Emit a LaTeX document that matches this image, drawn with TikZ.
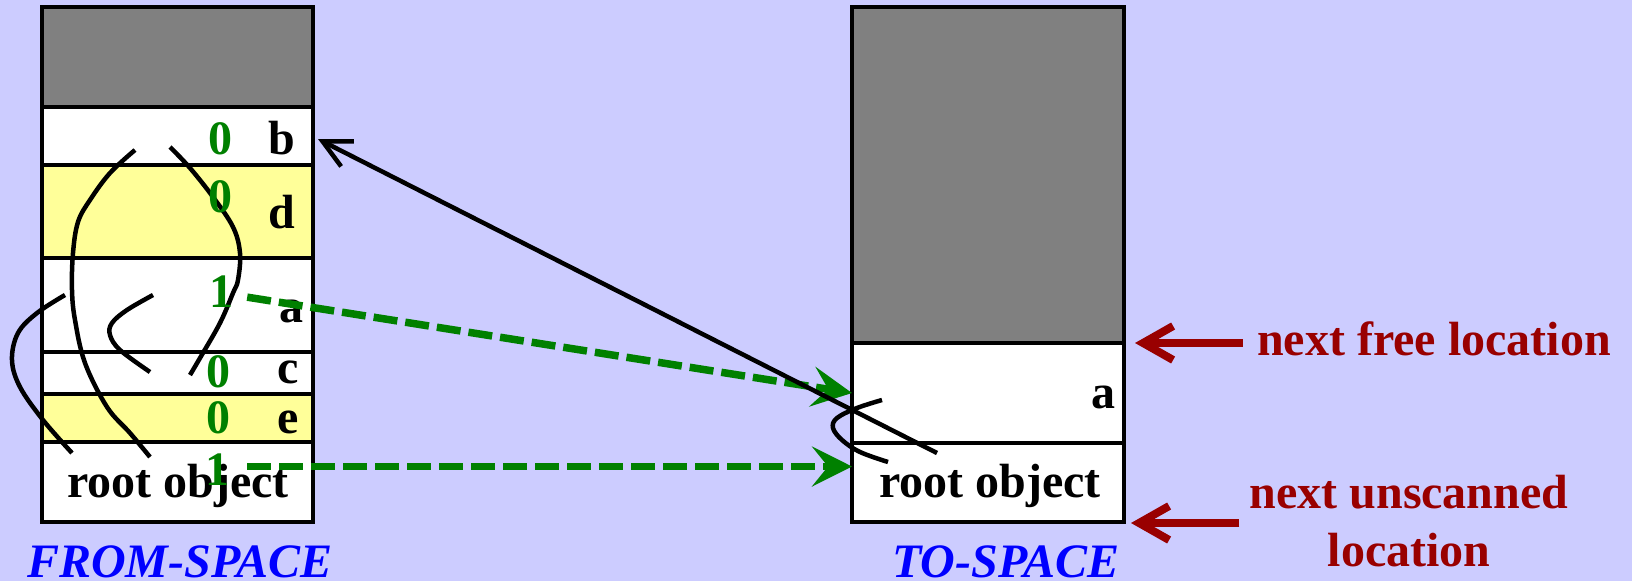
\documentclass[tikz,border=0pt]{standalone}
\usepackage{fontspec}
\setmainfont{Liberation Serif}
\usetikzlibrary{arrows.meta,calc}
\definecolor{bgc}{HTML}{CCCCFF}
\definecolor{yel}{HTML}{FFFF99}
\definecolor{gry}{HTML}{808080}
\definecolor{grn}{HTML}{008000}
\definecolor{dred}{HTML}{990000}
\definecolor{blu}{HTML}{0000FF}
\begin{document}
\begin{tikzpicture}[x=1pt,y=-1pt,
  row/.style={draw=black,line width=3.5pt,fill=white,minimum width=271pt,inner sep=0pt,outer sep=0pt,anchor=north west},
  lbl/.style={font=\fontsize{48}{56}\selectfont\bfseries,inner sep=0pt,anchor=base},
  bit/.style={lbl,text=grn},
  ptr/.style={draw=black,line width=4.5pt},
  gptr/.style={draw=grn,line width=7.5pt,dash pattern=on 24pt off 8pt,-{Stealth[length=40pt,width=40pt,inset=16pt]}},
  rptr/.style={draw=dred,line width=8pt,-{Straight Barb[length=30pt,width=34pt]}},
  spacelbl/.style={font=\fontsize{48}{56}\selectfont\bfseries\itshape,text=blu,inner sep=0pt,anchor=base},
  note/.style={font=\fontsize{48}{58}\selectfont\bfseries,text=dred,inner sep=0pt}]
\useasboundingbox (0,0) rectangle (1632,581);
\fill[bgc] (0,0) rectangle (1632,581);

% FROM-SPACE rows
\node[row,fill=gry,minimum height=100pt] (fg) at (42,7) {};
\node[row,minimum height=58pt] (fb) at (42,107) {};
\node[row,fill=yel,minimum height=93pt] (fd) at (42,165) {};
\node[row,minimum height=94pt] (fa) at (42,258) {};
\node[row,minimum height=42pt] (fc) at (42,352) {};
\node[row,fill=yel,minimum height=48pt] (fe) at (42,394) {};
\node[row,minimum height=80pt] (fr) at (42,442) {};

% TO-SPACE rows
\node[row,fill=gry,minimum width=272pt,minimum height=336pt] (tg) at (852,7) {};
\node[row,minimum width=272pt,minimum height=100pt] (ta) at (852,343) {};
\node[row,minimum width=272pt,minimum height=79pt] (tr) at (852,443) {};

% pointer curves inside from-space
\draw[ptr] plot[smooth,tension=0.6] coordinates {(135,150) (110,173) (90,200) (78,222) (73,253) (72,290) (75,320) (85,363) (107,407) (130,433) (150,457)};
\draw[ptr] plot[smooth,tension=0.6] coordinates {(170,147) (190,168) (213,197) (233,227) (240,253) (238,280) (233,293) (220,323) (200,358) (190,375)};
\draw[ptr] plot[smooth,tension=0.6] coordinates {(153,295) (127,310) (112,323) (110,335) (120,350) (150,372)};
\draw[ptr] plot[smooth,tension=0.6] coordinates {(65,295) (37,313) (18,333) (12,360) (20,387) (43,420) (72,453)};
% hook in to-space
\draw[ptr] plot[smooth,tension=0.6] coordinates {(882,400) (857,408) (837,418) (833,428) (842,440) (860,452) (888,462)};

% labels from-space
\node[bit] (b0) at (220,154) {0};
\node[lbl] (bl) at (282,154) {b};
\node[bit] (d0) at (220,212) {0};
\node[lbl] (dl) at (282,228) {d};
\node[bit] (a1) at (221,307) {1};
\node[lbl] (al) at (291,322) {a};
\node[bit] (c0) at (218,387) {0};
\node[lbl] (cl) at (288,383) {c};
\node[bit] (e0) at (218,433) {0};
\node[lbl] (el) at (288,433) {e};
\node[lbl] (rl) at (178,497) {root object};
\node[bit] (r1) at (217,485) {1};

% labels to-space
\node[lbl] (tal) at (1103,408) {a};
\node[lbl] (trl) at (990,497) {root object};

% captions
\node[spacelbl] (fromcap) at (180,577) {FROM-SPACE};
\node[spacelbl] (tocap) at (1006,577) {TO-SPACE};

% notes
\node[note,anchor=base] (free) at (1434,355) {next free location};
\node[note,align=center,anchor=north] (unsc) at (1409,475) {next unscanned\\location};

% green forwarding arrows
\path (a1.east) ++(14,6) coordinate (g1s);
\draw[gptr] (g1s) -- (ta.west);
\coordinate (g2e) at ($(tr.west)+(0,-16)$);
\path (r1.east |- g2e) ++(18,0) coordinate (g2s);
\draw[gptr] (g2s) -- (g2e);

% black pointer back to b
\coordinate (bsrc) at ($(tr.north west)+(85,10)$);
\coordinate (btip) at ($(fb.east)+(5,3)$);
\draw[ptr,-{Straight Barb[length=28pt,width=28pt]}] (bsrc) -- (btip);

% red pointers
\coordinate (rt1) at ($(tg.south east)+(11,0)$);
\path (free.west |- rt1) ++(-14,0) coordinate (rs1);
\draw[rptr] (rs1) -- (rt1);
\coordinate (rt2) at ($(tr.south east)+(7,1)$);
\path (unsc.west |- rt2) ++(-10,0) coordinate (rs2);
\draw[rptr] (rs2) -- (rt2);
\end{tikzpicture}
\end{document}
